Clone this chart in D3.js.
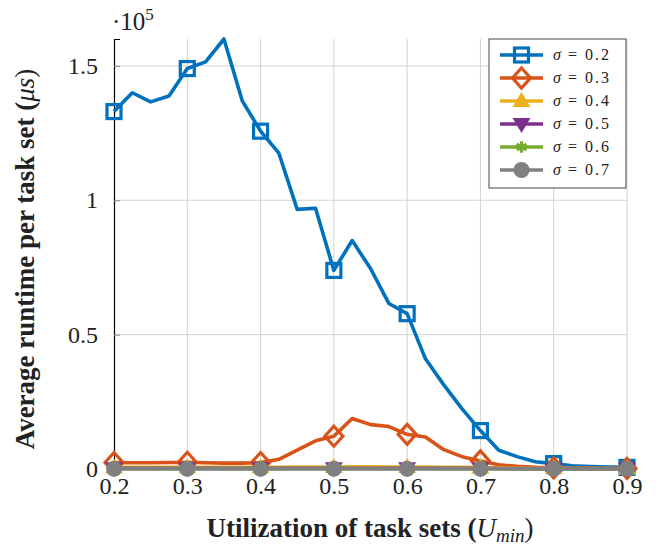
<!DOCTYPE html>
<html>
<head>
<meta charset="utf-8">
<script src="https://cdn.jsdelivr.net/npm/d3@7"></script>
<style>
    body { margin: 0; background: #fff; }
    svg text { font-family: 'Liberation Serif', 'DejaVu Serif', serif !important; }
</style>
</head>
<body>
<svg width="658" height="546"></svg>
<script>
// utilization values (x), every 0.025
let utilization = [0.2, 0.225, 0.25, 0.275, 0.3, 0.325, 0.35, 0.375, 0.4, 0.425, 0.45, 0.475,
    0.5, 0.525, 0.55, 0.575, 0.6, 0.625, 0.65, 0.675, 0.7, 0.725, 0.75, 0.775, 0.8, 0.825,
    0.85, 0.875, 0.9];

let sigmaLabels = ['0.2', '0.3', '0.4', '0.5', '0.6', '0.7'];

// average runtime in microseconds
let runtime02 = [133000, 140000, 136600, 138800, 149000, 151500, 160000, 137000, 125700, 117500,
    96600, 97000, 73900, 85000, 74600, 61600, 57800, 41000, 31300, 22400, 14300, 7000, 4600,
    2700, 2000, 1200, 900, 700, 600];
let runtime03 = [2400, 2300, 2300, 2400, 2500, 2300, 2200, 2200, 2400, 3600, 7000, 10500, 12200,
    18800, 16500, 15800, 12900, 11900, 7200, 4600, 3000, 1600, 1000, 600, 400, 300, 250, 200, 200];
let runtime04 = [600, 600, 600, 600, 650, 600, 600, 600, 650, 650, 700, 700, 750, 800, 800, 750,
    750, 700, 650, 600, 550, 450, 350, 300, 250, 200, 150, 150, 150];
let runtime05 = [250, 250, 250, 250, 250, 250, 250, 250, 250, 250, 250, 250, 250, 250, 250, 250,
    250, 250, 250, 250, 200, 200, 150, 150, 100, 100, 100, 100, 100];
let runtime06 = [150, 150, 150, 150, 150, 150, 150, 150, 150, 150, 150, 150, 150, 150, 150, 150,
    150, 150, 150, 150, 120, 120, 100, 100, 80, 80, 80, 80, 80];
let runtime07 = [80, 80, 80, 80, 80, 80, 80, 80, 80, 80, 80, 80, 80, 80, 80, 80, 80, 80, 80, 80,
    70, 70, 60, 60, 50, 50, 50, 50, 50];

let xTicks = [0.2, 0.3, 0.4, 0.5, 0.6, 0.7, 0.8, 0.9];
let yTicks = [0, 50000, 100000, 150000];
let yTickLabels = ['0', '0.5', '1', '1.5'];

let colors = ['#0072BD', '#D95319', '#EDB120', '#7E2F8E', '#77AC30', '#808080'];
let markers = ['square', 'diamond', 'triangle', 'triangleDown', 'asterisk', 'circle'];

let series = [runtime02, runtime03, runtime04, runtime05, runtime06, runtime07].map((v, i) => ({
    label: sigmaLabels[i],
    color: colors[i],
    marker: markers[i],
    values: v.map((y, j) => ({x: utilization[j], y: y}))
}));

let serif = "'Liberation Serif', 'DejaVu Serif', serif";

let svg = d3.select('svg');
let x = d3.scaleLinear().domain([0.2, 0.9]).range([114, 627]);
let y = d3.scaleLinear().domain([0, 160000]).range([469, 39]);

// grid
let grid = svg.append('g').attr('stroke', '#d2d2d2').attr('stroke-width', 1);
xTicks.slice(1).forEach(t => grid.append('line')
    .attr('x1', x(t)).attr('x2', x(t)).attr('y1', y(0)).attr('y2', y(160000)));
yTicks.slice(1).forEach(t => grid.append('line')
    .attr('x1', x(0.2)).attr('x2', x(0.9)).attr('y1', y(t)).attr('y2', y(t)));

// left axis
let yAxis = svg.append('g')
    .attr('transform', `translate(${x(0.2)},0)`)
    .call(d3.axisLeft(y).tickValues(yTicks).tickFormat((d, i) => yTickLabels[i])
        .tickSize(-6).tickPadding(16))
    .attr('font-family', serif);
yAxis.select('.domain').attr('stroke', '#000').attr('stroke-width', 1.2);
yAxis.selectAll('.tick line').attr('stroke', '#888');
yAxis.selectAll('.tick text').attr('font-size', 24).attr('fill', '#222');

let xAxis = svg.append('g')
    .attr('transform', `translate(0,${y(0)})`)
    .call(d3.axisBottom(x).tickValues(xTicks).tickFormat(d3.format('.1f')).tickSize(0).tickPadding(8))
    .attr('font-family', serif);
xAxis.select('.domain').remove();
xAxis.selectAll('.tick text').attr('font-size', 24).attr('fill', '#222');

// exponent
let expo = svg.append('text').attr('x', 112).attr('y', 30).attr('font-size', 25).attr('fill', '#222');
expo.append('tspan').text('·10');
expo.append('tspan').attr('font-size', 17).attr('dy', -10).text('5');

// axis titles
let xt = svg.append('text').attr('x', 370).attr('y', 537).attr('text-anchor', 'middle')
    .attr('font-size', 27).attr('font-weight', 'bold').attr('fill', '#222');
xt.append('tspan').text('Utilization of task sets (');
xt.append('tspan').attr('font-style', 'italic').attr('font-weight', 'normal').text('U');
xt.append('tspan').attr('font-style', 'italic').attr('font-weight', 'normal')
    .attr('font-size', 19).attr('dy', 5).text('min');
xt.append('tspan').attr('dy', -5).attr('font-weight', 'normal').text(')');

let yt = svg.append('text').attr('transform', 'translate(34,259) rotate(-90)')
    .attr('text-anchor', 'middle').attr('font-size', 27).attr('font-weight', 'bold').attr('fill', '#222');
yt.append('tspan').text('Average runtime per task set (');
yt.append('tspan').attr('font-style', 'italic').attr('font-weight', 'normal').text('μs');
yt.append('tspan').attr('font-weight', 'normal').text(')');

// lines
let line = d3.line().x(d => x(d.x)).y(d => y(d.y));
let plot = svg.append('g');

function drawMarker(g, m, color, cx, cy) {
    if (m === 'square') {
        g.append('rect').attr('x', cx - 7).attr('y', cy - 7).attr('width', 14).attr('height', 14)
            .attr('fill', 'none').attr('stroke', color).attr('stroke-width', 3.2);
    } else if (m === 'diamond') {
        g.append('path').attr('d', `M${cx},${cy - 10}L${cx + 9},${cy}L${cx},${cy + 10}L${cx - 9},${cy}Z`)
            .attr('fill', 'none').attr('stroke', color).attr('stroke-width', 3.2);
    } else if (m === 'triangle') {
        g.append('path').attr('d', `M${cx},${cy - 9}L${cx + 9},${cy + 6}L${cx - 9},${cy + 6}Z`)
            .attr('fill', color);
    } else if (m === 'triangleDown') {
        g.append('path').attr('d', `M${cx},${cy + 9}L${cx + 9},${cy - 6}L${cx - 9},${cy - 6}Z`)
            .attr('fill', color);
    } else if (m === 'asterisk') {
        g.append('path').attr('d', d3.symbol(d3.symbolAsterisk, 90)())
            .attr('transform', `translate(${cx},${cy})`)
            .attr('fill', 'none').attr('stroke', color).attr('stroke-width', 3.2);
    } else {
        g.append('circle').attr('cx', cx).attr('cy', cy).attr('r', 8).attr('fill', color);
    }
}

series.forEach(s => {
    plot.append('path').datum(s.values).attr('d', line)
        .attr('fill', 'none').attr('stroke', s.color).attr('stroke-width', 3.6)
        .attr('stroke-linejoin', 'round');
    let mg = plot.append('g');
    s.values.filter(d => xTicks.some(t => Math.abs(t - d.x) < 1e-6))
        .forEach(d => drawMarker(mg, s.marker, s.color, x(d.x), y(d.y)));
});

// legend
let legend = svg.append('g');
legend.append('rect').attr('x', 489).attr('y', 39).attr('width', 137).attr('height', 149)
    .attr('fill', '#fff').attr('stroke', '#444').attr('stroke-width', 1);
series.forEach((s, i) => {
    let ly = 55 + i * 23;
    legend.append('line').attr('x1', 500).attr('x2', 543).attr('y1', ly).attr('y2', ly)
        .attr('stroke', s.color).attr('stroke-width', 3.6);
    drawMarker(legend, s.marker, s.color, 521.5, ly);
    let t = legend.append('text').attr('y', ly + 5).attr('font-size', 16).attr('fill', '#222');
    t.append('tspan').attr('x', 553).attr('font-style', 'italic').text('σ');
    t.append('tspan').attr('x', 568).text('=');
    t.append('tspan').attr('x', 585).attr('letter-spacing', 2).text(s.label);
});
</script>
</body>
</html>
